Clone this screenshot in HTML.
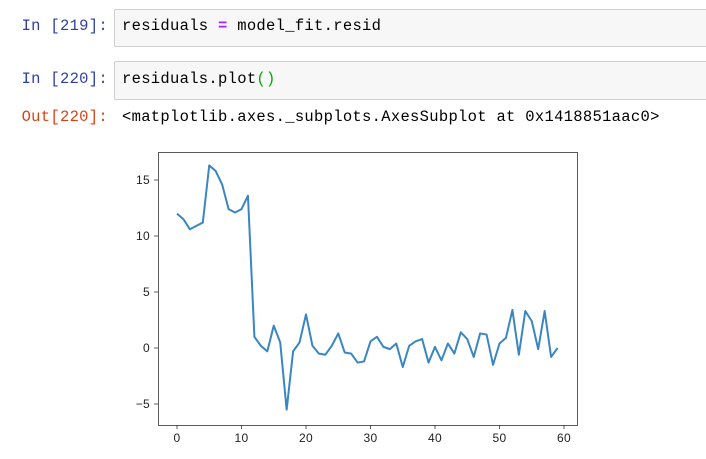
<!DOCTYPE html>
<html><head><meta charset="utf-8"><style>
body{margin:0;width:706px;height:459px;background:#fff;overflow:hidden;font-family:"Liberation Mono",monospace;font-size:15.5px;position:relative;letter-spacing:0.3px}
.p{position:absolute;left:0;width:108px;text-align:right;color:#303f9f}
.o{color:#d84315}
.box{position:absolute;left:114px;right:-2px;border:1px solid #cfcfcf;background:#f7f7f7;border-radius:2px}
.t{position:absolute;left:122px;color:#000}
</style></head><body>
<div class="p" style="top:17px">In [219]:</div>
<div class="box" style="top:9px;height:36px"></div>
<div class="t" style="top:17px">residuals <span style="color:#aa22ff;font-weight:bold">=</span> model_fit.resid</div>
<div class="p" style="top:70px">In [220]:</div>
<div class="box" style="top:61px;height:37px"></div>
<div class="t" style="top:70px">residuals.plot<span style="color:#0a0">()</span></div>
<div class="p o" style="top:108px">Out[220]:</div>
<div class="t" style="top:108px">&lt;matplotlib.axes._subplots.AxesSubplot at 0x1418851aac0&gt;</div>
<svg id="c" width="706" height="459" style="position:absolute;left:0;top:0" font-family="Liberation Sans, sans-serif" font-size="12"></svg>
<script>
const values=[12.0,11.5,10.6,10.9,11.2,16.3,15.8,14.6,12.4,12.1,12.4,13.6,1.0,0.2,-0.3,2.0,0.5,-5.5,-0.3,0.5,3.0,0.2,-0.5,-0.6,0.2,1.3,-0.4,-0.5,-1.3,-1.2,0.6,1.0,0.1,-0.1,0.4,-1.7,0.2,0.6,0.8,-1.3,0.1,-1.1,0.4,-0.5,1.4,0.8,-0.8,1.3,1.2,-1.5,0.4,0.9,3.4,-0.6,3.3,2.4,-0.1,3.3,-0.8,0.0];
const xTicks=[0,10,20,30,40,50,60];
const yTicks=[-5,0,5,10,15];
const L=158,T=152,R=577,B=425;
const xs=v=>177+v*(564-177)/60;
const ys=v=>348-v*(348-292)/5;
const s=document.getElementById('c');const NS='http://www.w3.org/2000/svg';
function mk(t,a){const e=document.createElementNS(NS,t);for(const k in a)e.setAttribute(k,a[k]);s.appendChild(e);return e;}
const fr=mk('rect',{x:L+.5,y:T+.5,width:R-L,height:B-T,fill:'none',stroke:'#333','stroke-width':0.8});


xTicks.forEach(v=>{const x=xs(v);
const l=mk('line',{x1:x,x2:x,y1:B,y2:B+4,stroke:'#333','stroke-width':0.8});


const t=mk('text',{x:x,y:B+17,'text-anchor':'middle',fill:'#222'});t.textContent=v;

});
yTicks.forEach(v=>{const y=ys(v);
const l=mk('line',{x1:L-4,x2:L,y1:y,y2:y,stroke:'#333','stroke-width':0.8});


const t=mk('text',{x:L-8,y:y+4,'text-anchor':'end',fill:'#222'});t.textContent=v<0?'\u22125':v;

});
const p=mk('polyline',{points:values.map((v,i)=>xs(i)+','+ys(v)).join(' '),fill:'none',stroke:'#3a86c2','stroke-width':2,'stroke-linejoin':'round'});


</script>
</body></html>
